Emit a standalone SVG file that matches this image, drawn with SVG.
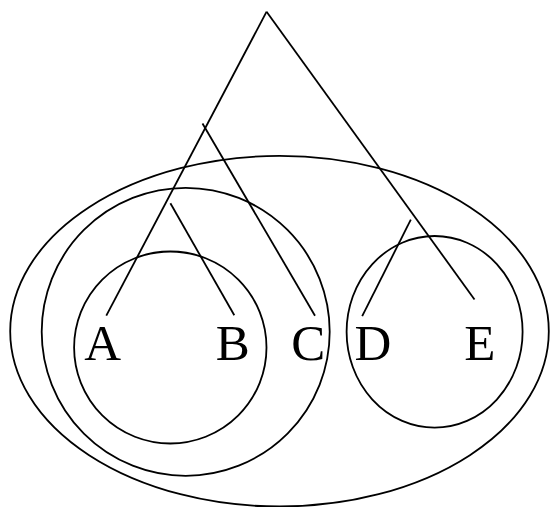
<svg xmlns="http://www.w3.org/2000/svg" width="550" height="507" viewBox="0 0 550 507">
<style>
.s{fill:none;stroke:#000;stroke-width:1.8;stroke-linecap:butt}
.t{font-family:"Liberation Serif","Times New Roman",serif;font-size:51px;fill:#000}
</style>
<rect width="550" height="507" fill="#fff"/>
<g id="sets">
<ellipse id="set-ABCDE" class="s" cx="279.5" cy="331.2" rx="269.3" ry="175.3"/>
<ellipse id="set-ABC" class="s" cx="185.7" cy="331.8" rx="144" ry="144"/>
<ellipse id="set-AB" class="s" cx="170.3" cy="347.5" rx="96.2" ry="96"/>
<ellipse id="set-DE" class="s" cx="434.6" cy="331.8" rx="88" ry="95.8"/>
</g>
<g id="connectors">
<line class="s" x1="266.6" y1="11.7" x2="106.3" y2="315.7"/>
<line class="s" x1="266.6" y1="11.7" x2="474.5" y2="299.5"/>
<line class="s" x1="202.5" y1="123.5" x2="315" y2="315.7"/>
<line class="s" x1="170.4" y1="203.3" x2="234.3" y2="315.3"/>
<line class="s" x1="410.8" y1="219.6" x2="362.2" y2="316.2"/>
</g>
<g id="node-A"><text class="t" x="84.3" y="360">A</text></g>
<g id="node-B"><text class="t" x="215.8" y="360">B</text></g>
<g id="node-C"><text class="t" x="291.3" y="360">C</text></g>
<g id="node-D"><text class="t" x="354.5" y="360">D</text></g>
<g id="node-E"><text class="t" x="464.3" y="360">E</text></g>
</svg>
